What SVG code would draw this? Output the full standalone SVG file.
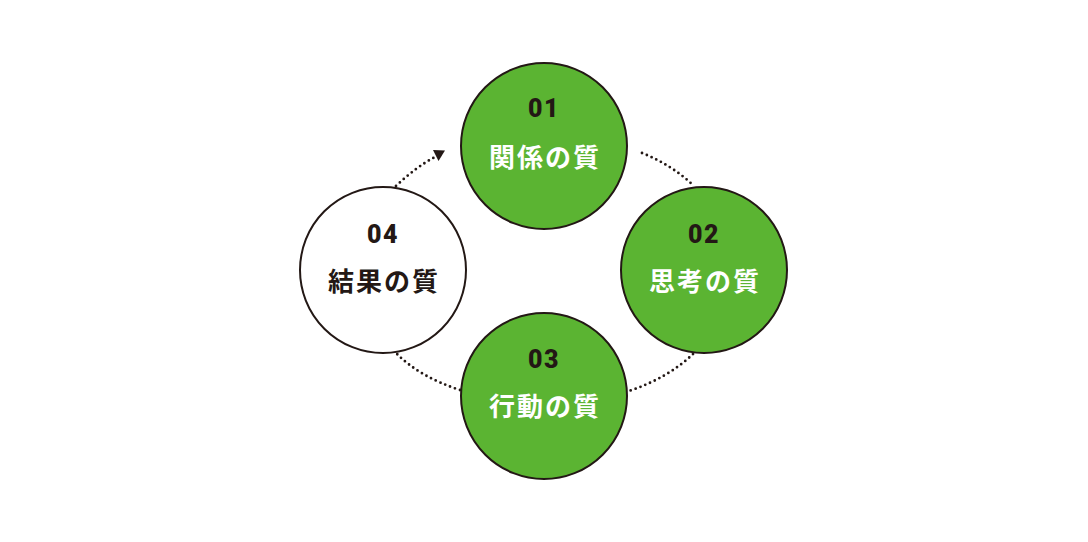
<svg xmlns="http://www.w3.org/2000/svg" width="1088" height="542" viewBox="0 0 1088 542">
<defs>
<style>
.ring{stroke:#231815;stroke-width:2}
.green{fill:#5bb432}
.white{fill:#ffffff}
.num{font-family:"Roboto","Noto Sans",sans-serif;font-weight:900;font-size:25px;fill:#231815;text-anchor:middle;letter-spacing:1.5px}
.lbl{font-family:"Noto Sans CJK JP","Noto Sans",sans-serif;font-weight:700;font-size:26px;text-anchor:middle;letter-spacing:2px}
.lw{fill:#ffffff}
.ld{fill:#231815}
.dot{fill:none;stroke:#231815;stroke-width:2.8;stroke-linecap:round;stroke-dasharray:0 5.2}
</style>
</defs>
<rect width="1088" height="542" fill="#ffffff"/>
<g id="connectors">
<path class="dot" d="M396,186 Q416,167 435,157"/>
<path d="M433,150 L445,150.5 L438.5,161 z" fill="#231815"/>
<path class="dot" d="M642,153 Q672,165 694,186"/>
<path class="dot" d="M693,354 Q668,378 629,391"/>
<path class="dot" d="M460,390 Q420,377 397,354"/>
</g>
<g id="node01">
<circle class="ring green" cx="544" cy="146" r="83"/>
<text class="num" x="544" y="117">01</text>
<text class="lbl lw" x="545" y="167">関係の質</text>
</g>
<g id="node02">
<circle class="ring green" cx="704" cy="270" r="83"/>
<text class="num" x="704" y="243">02</text>
<text class="lbl lw" x="705" y="291">思考の質</text>
</g>
<g id="node03">
<circle class="ring green" cx="544" cy="396" r="83"/>
<text class="num" x="544" y="368">03</text>
<text class="lbl lw" x="545" y="416">行動の質</text>
</g>
<g id="node04">
<circle class="ring white" cx="383" cy="270" r="83"/>
<text class="num" x="383" y="243">04</text>
<text class="lbl ld" x="384" y="291">結果の質</text>
</g>
</svg>
